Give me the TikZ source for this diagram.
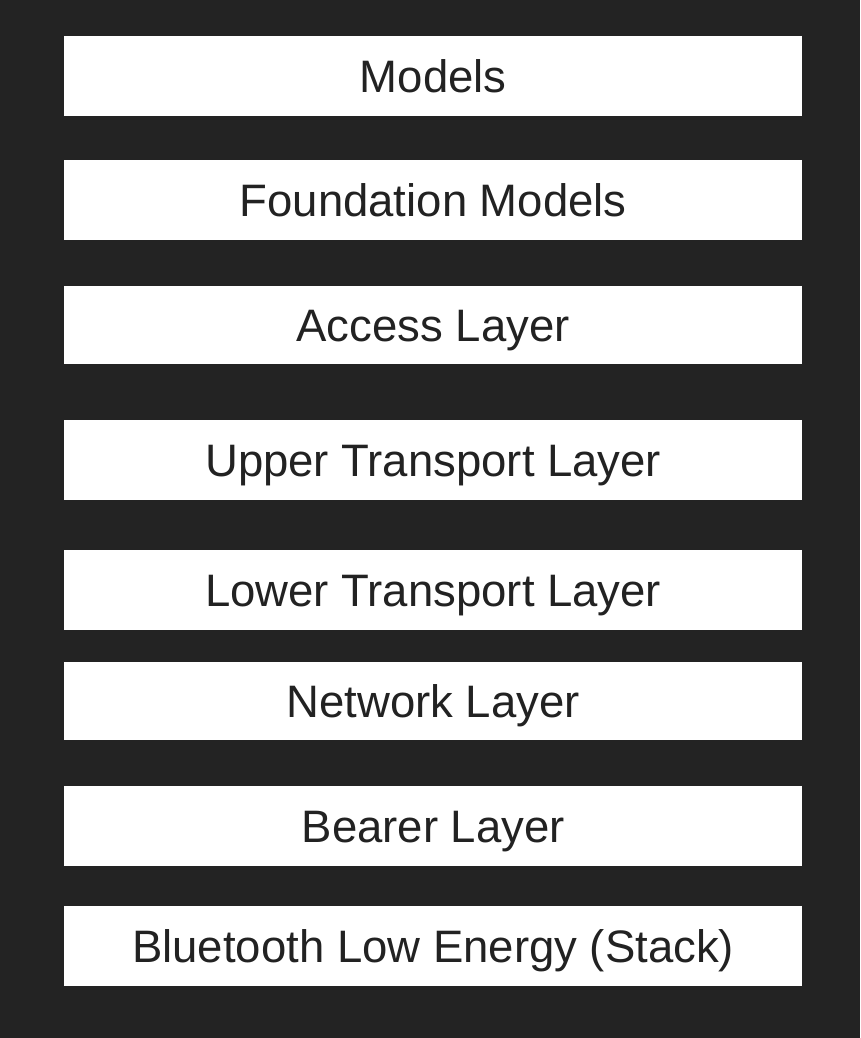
\documentclass[tikz,border=0pt]{standalone}
\usepackage{fontspec}
\setmainfont{Liberation Sans}
\definecolor{bg}{HTML}{232323}
\definecolor{txt}{HTML}{222222}
\begin{document}
\begin{tikzpicture}[x=1pt,y=-1pt,
  layerbox/.style={fill=white,draw=none,minimum width=738pt,inner sep=0pt,text=txt,text height=32pt,text depth=0pt,font=\fontsize{45.5}{50}\selectfont,anchor=north west}]
\fill[bg] (0,0) rectangle (860,1038);
\useasboundingbox (0,0) rectangle (860,1038);
\node[layerbox,minimum height=80pt] (models) at (64,36) {Models};
\node[layerbox,minimum height=80pt] (found) at (64,160) {Foundation Models};
\node[layerbox,minimum height=78pt] (access) at (64,286) {Access Layer};
\node[layerbox,minimum height=80pt] (upper) at (64,420) {Upper Transport Layer};
\node[layerbox,minimum height=80pt] (lower) at (64,550) {Lower Transport Layer};
\node[layerbox,minimum height=78pt] (network) at (64,662) {Network Layer};
\node[layerbox,minimum height=80pt] (bearer) at (64,786) {Bearer Layer};
\node[layerbox,minimum height=80pt] (ble) at (64,906) {Bluetooth Low Energy (Stack)};
\end{tikzpicture}
\end{document}
